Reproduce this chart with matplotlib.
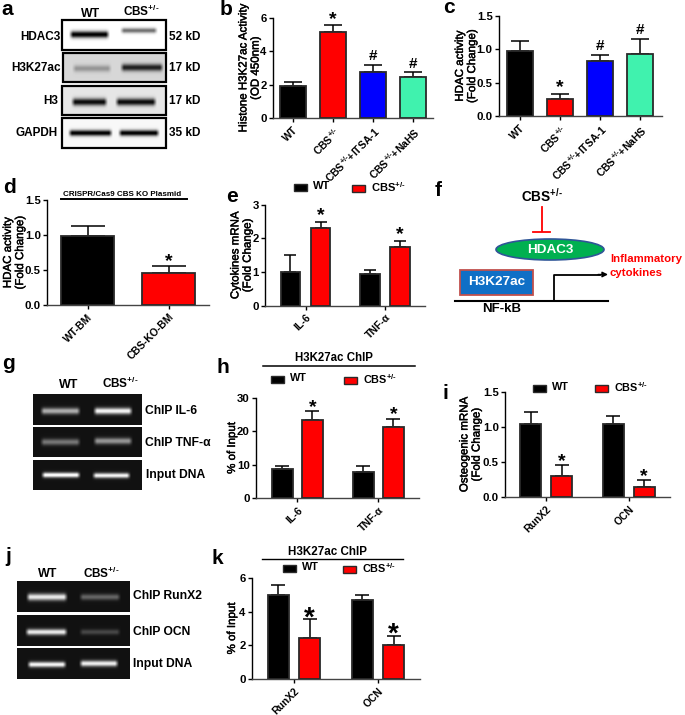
import matplotlib
matplotlib.use("Agg")

import numpy as np
import matplotlib.pyplot as plt
import matplotlib.patheffects as pe
from matplotlib.patches import Ellipse, Rectangle

W, H = 685, 715

plt.rcParams["font.family"] = ["Liberation Sans", "DejaVu Sans"]
plt.rcParams["font.weight"] = "bold"
plt.rcParams["mathtext.fontset"] = "custom"
plt.rcParams["mathtext.rm"] = "Liberation Sans:bold"
plt.rcParams["mathtext.bf"] = "Liberation Sans:bold"
plt.rcParams["mathtext.default"] = "rm"

CBS = r"CBS$^{\text{+/-}}$"
BLACK = "#000000"
RED = "#ff0000"
BLUE = "#0000ff"
GREEN = "#40f2ae"
EDGE = "#2a2a2a"

# panel b
labels_b = ["WT", CBS, CBS + "+ITSA-1", CBS + "+NaHS"]
values_b = [1.95, 5.15, 2.75, 2.45]
tops_b = [2.15, 5.6, 3.2, 2.75]
marks_b = ["", "*", "#", "#"]

# panel c
labels_c = ["WT", CBS, CBS + "+ITSA-1", CBS + "+NaHS"]
values_c = [0.98, 0.25, 0.82, 0.93]
tops_c = [1.13, 0.33, 0.92, 1.16]
marks_c = ["", "*", "#", "#"]

# panel d
labels_d = ["WT-BM", "CBS-KO-BM"]
values_d = [0.98, 0.46]
tops_d = [1.13, 0.56]
marks_d = ["", "*"]

# panel e
groups_e = ["IL-6", "TNF-α"]
wt_e = [1.0, 0.95]
wt_top_e = [1.52, 1.05]
cbs_e = [2.3, 1.75]
cbs_top_e = [2.5, 1.93]

# panel h
groups_h = ["IL-6", "TNF-α"]
wt_h = [8.7, 7.8]
wt_top_h = [9.7, 9.5]
cbs_h = [23.5, 21.2]
cbs_top_h = [26.0, 23.7]

# panel i
groups_i = ["RunX2", "OCN"]
wt_i = [1.05, 1.05]
wt_top_i = [1.21, 1.16]
cbs_i = [0.3, 0.15]
cbs_top_i = [0.46, 0.25]

# panel k
groups_k = ["RunX2", "OCN"]
wt_k = [5.0, 4.68]
wt_top_k = [5.57, 5.0]
cbs_k = [2.42, 2.03]
cbs_top_k = [3.55, 2.55]

fig = plt.figure(figsize=(W / 100, H / 100), dpi=100)
canvas = fig.add_axes([0, 0, 1, 1])
canvas.set_xlim(0, W)
canvas.set_ylim(H, 0)
canvas.axis("off")


def axes_px(left, top, right, bottom):
    return fig.add_axes([left / W, 1 - bottom / H, (right - left) / W, (bottom - top) / H])


def text(x, y, s, size=8, color="black", ha="left", va="center", **kw):
    canvas.text(x, y, s, fontsize=size, color=color, ha=ha, va=va, fontweight="bold", **kw)


def style_axes(ax, ylim, yticks, yfmt, ylabel, xlim, label_x, size=8.3):
    ax.set_xlim(*xlim)
    ax.set_ylim(*ylim)
    ax.set_yticks(yticks)
    ax.set_yticklabels([yfmt % v for v in yticks], fontsize=8.2)
    ax.patch.set_alpha(0)
    for side in ["top", "right"]:
        ax.spines[side].set_visible(False)
    ax.spines["left"].set_linewidth(1.0)
    ax.spines["bottom"].set_linewidth(1.0)
    ax.spines["bottom"].set_color("#444444")
    ax.tick_params(axis="y", length=3, width=1.0, pad=1.5)
    ax.tick_params(axis="x", length=3, width=1.0, pad=2)
    # label_x is the label's centre in picture pixels
    box = ax.get_position()
    ax.text((label_x / W - box.x0) / box.width, 0.5, ylabel, transform=ax.transAxes, rotation=90,
            ha="center", va="center", multialignment="center", fontsize=size, linespacing=1.02,
            fontweight="normal", path_effects=[pe.withStroke(linewidth=0.3, foreground="black")])


def xlabels(ax, pos, labels, size=7.5):
    ax.set_xticks(pos)
    ax.set_xticklabels(labels, rotation=45, ha="right", rotation_mode="anchor", fontsize=size)


def draw_bars(ax, x, values, tops, colors, width, marks=None, star_size=14, star_gap=9):
    ax.bar(x, values, width=width, color=colors, edgecolor=EDGE, linewidth=1.3, zorder=3)
    lower = np.zeros(len(values))
    upper = np.array(tops) - np.array(values)
    span = ax.get_xlim()[1] - ax.get_xlim()[0]
    px = ax.get_position().width * W / span
    ax.errorbar(x, values, yerr=[lower, upper], fmt="none", ecolor="black", elinewidth=1.1,
                capsize=width * px * 0.33 * 0.72, capthick=1.1, zorder=2)
    if not marks:
        return
    for xi, t, m in zip(x, tops, marks):
        if not m:
            continue
        # glyph centres sit at a fixed share of the em above the baseline
        size = star_size if m == "*" else 11
        em = size / 0.72
        gap = star_gap if m == "*" else 10
        share = 0.43 if m == "*" else 0.35
        dy = (gap - share * em) * 0.72
        ax.annotate(m, (xi, t), xytext=(0, dy), textcoords="offset points", ha="center", va="baseline",
                    fontsize=size, fontweight="bold", zorder=5, annotation_clip=False)


def grouped(ax, groups, wt, wt_top, cbs, cbs_top, offset, width, star_size=14, star_gap=9):
    x = np.arange(len(groups))
    draw_bars(ax, x - offset, wt, wt_top, [BLACK] * len(x), width)
    draw_bars(ax, x + offset, cbs, cbs_top, [RED] * len(x), width, ["*"] * len(x), star_size, star_gap)
    xlabels(ax, x, groups)


def legend_px(x1, y1, x2, y2, size=8):
    canvas.add_patch(Rectangle((x1, y1 - 3.5), 13, 7, fc=BLACK, ec=EDGE, lw=1))
    text(x1 + 19, y1 - 1, "WT", size)
    canvas.add_patch(Rectangle((x2, y2 - 3.5), 13, 7, fc=RED, ec=EDGE, lw=1))
    text(x2 + 19, y2 - 1, CBS, size)


def band_image(x0, x1, y0, y1, bands, bg, dark_on_light):
    # bands: (xa, xb, y, thickness, strength) in pixels
    xs = np.arange(x0, x1) + 0.5
    ys = np.arange(y0, y1) + 0.5
    gx, gy = np.meshgrid(xs, ys)
    signal = np.zeros_like(gx)
    for xa, xb, yc, th, strength in bands:
        prof_x = np.clip((gx - xa) / 4, 0, 1) * np.clip((xb - gx) / 4, 0, 1)
        prof_y = np.exp(-((gy - yc) / th) ** 2)
        signal = signal + strength * prof_x * prof_y
    signal = np.clip(signal, 0, 1)
    if dark_on_light:
        return bg * (1 - signal)
    return bg + (1 - bg) * signal


def blot(x0, x1, y0, y1, bands, bg, lw=1.6):
    img = band_image(x0, x1, y0, y1, bands, bg, True)
    canvas.imshow(img, cmap="gray", vmin=0, vmax=1, extent=(x0, x1, y1, y0), aspect="auto",
                  interpolation="bilinear", zorder=1)
    canvas.add_patch(Rectangle((x0, y0), x1 - x0, y1 - y0, fc="none", ec="black", lw=lw, zorder=2))


def gel(x0, x1, y0, y1, bands, bg=0.07):
    img = band_image(x0, x1, y0, y1, bands, bg, False)
    canvas.imshow(img, cmap="gray", vmin=0, vmax=1, extent=(x0, x1, y1, y0), aspect="auto",
                  interpolation="bilinear", zorder=1)


# panel letters
for letter, x, y in [("a", 1, 15), ("b", 220, 15), ("c", 443, 13), ("d", 3, 193), ("e", 226, 202),
                     ("f", 435, 196), ("g", 2, 369), ("h", 217, 373), ("i", 443, 399),
                     ("j", 5, 562), ("k", 212, 564)]:
    text(x, y, letter, 15, va="baseline")

# a: western blots
blot(62, 166, 20, 50, [(69, 110, 34.5, 3.4, 1.0), (120, 158, 30.5, 2.6, 0.55)], 1.0)
blot(63, 166, 53, 82, [(72, 112, 68.5, 3.4, 0.3), (120, 164, 67.5, 3.6, 0.85)], 0.84)
blot(62, 166, 86, 115, [(71, 108, 102, 3.6, 0.95), (115, 157, 102, 3.6, 0.95)], 0.9)
blot(62, 166, 118, 148, [(68, 113, 133, 3.0, 1.0), (118, 160, 133, 3.0, 1.0)], 0.97)
text(91, 14, "WT", 8.8, ha="center")
text(141, 11, CBS, 8.5, ha="center")
for y, name, kd, right in [(36.5, "HDAC3", "52 kD", 61), (68, "H3K27ac", "17 kD", 61),
                           (101, "H3", "17 kD", 58), (133, "GAPDH", "35 kD", 58)]:
    text(right, y, name, 8.5, ha="right")
    text(169, y, kd, 8.5)

# b
ax = axes_px(273, 18, 433, 118)
style_axes(ax, (0, 6), [0, 2, 4, 6], "%d", "Histone H3K27ac Activity\n(OD 450nm)", (-0.5, 3.5), 249.5)
draw_bars(ax, np.arange(4), values_b, tops_b, [BLACK, RED, BLUE, GREEN], 0.65, marks_b, star_gap=9)
xlabels(ax, np.arange(4), labels_b)

# c
ax = axes_px(499, 16, 662, 116)
style_axes(ax, (0, 1.5), [0, 0.5, 1.0, 1.5], "%.1f", "HDAC activity\n(Fold Change)", (-0.525, 3.55), 466)
draw_bars(ax, np.arange(4), values_c, tops_c, [BLACK, RED, BLUE, GREEN], 0.65, marks_c, star_gap=10)
xlabels(ax, np.arange(4), labels_c)

# d
ax = axes_px(47, 200, 209, 305)
style_axes(ax, (0, 1.5), [0, 0.5, 1.0, 1.5], "%.1f", "HDAC activity\n(Fold Change)", (-0.5, 1.5), 14)
draw_bars(ax, np.arange(2), values_d, tops_d, [BLACK, RED], 0.65, marks_d, star_gap=8)
xlabels(ax, np.arange(2), labels_d)
text(122, 194, "CRISPR/Cas9 CBS KO Plasmid", 5.8, ha="center")
canvas.plot([61, 187], [199, 199], color="black", lw=1.4)

# e
ax = axes_px(265, 205, 425, 305.5)
style_axes(ax, (0, 3), [0, 1, 2, 3], "%d", "Cytokines mRNA\n(Fold Change)", (-0.51, 1.503), 241.5)
grouped(ax, groups_e, wt_e, wt_top_e, cbs_e, cbs_top_e, 0.19, 0.245, star_gap=10)
legend_px(294, 187, 352, 188)

# f: pathway sketch
text(542, 196, CBS, 9.8, ha="center")
canvas.plot([542, 542], [207, 231], color=RED, lw=1.3)
canvas.plot([533, 550], [232, 232], color=RED, lw=1.3)
canvas.add_patch(Ellipse((550, 249.5), 108, 21, fc="#00b050", ec="#2f5597", lw=1.2))
text(550, 250, "HDAC3", 9.7, "white", ha="center")
canvas.add_patch(Rectangle((460, 270), 73, 25, fc="#0f6fc6", ec="#c0504d", lw=1.3))
text(496.5, 282, "H3K27ac", 9.7, "white", ha="center")
canvas.plot([455, 608], [300.5, 300.5], color="black", lw=1.5)
canvas.plot([554, 554, 600], [300, 274.5, 274.5], color="black", lw=1.3)
canvas.annotate("", xy=(608, 274.5), xytext=(598, 274.5),
                arrowprops=dict(arrowstyle="-|>", color="black", lw=1, mutation_scale=8, shrinkA=0, shrinkB=0))
text(502, 309, "NF-kB", 9.5, ha="center")
text(610, 259, "Inflammatory", 8.2, RED)
text(610, 273, "cytokines", 8.2, RED)

# g: gels
gel(33, 142, 394, 425, [(40, 81, 411, 3.2, 0.65), (93, 133, 411, 3.2, 0.95)])
gel(33, 142, 427, 457, [(40, 81, 442, 3.2, 0.42), (93, 133, 441, 3.2, 0.55)])
gel(33, 142, 460, 490, [(41, 81, 475, 2.6, 1.0), (92, 131, 475.5, 2.6, 0.95)])
text(68.5, 385, "WT", 9, ha="center")
text(120, 383, CBS, 8.5, ha="center")
text(145, 411, "ChIP IL-6", 8.7)
text(145, 442.5, "ChIP TNF-α", 8.7)
text(146, 475, "Input DNA", 8.7)

# h
ax = axes_px(256, 398, 419, 498)
style_axes(ax, (0, 30), [0, 10, 20, 30], "%d", "% of Input", (-0.51, 1.5), 232)
grouped(ax, groups_h, wt_h, wt_top_h, cbs_h, cbs_top_h, 0.185, 0.26, star_gap=8)
text(334, 358, "H3K27ac ChIP", 8.3, ha="center")
canvas.plot([263, 415], [366, 366], color="black", lw=1.1)
legend_px(271, 379, 344, 380, 7.8)

# i
ax = axes_px(505, 392, 670, 497)
style_axes(ax, (0, 1.5), [0, 0.5, 1.0, 1.5], "%.1f", "Osteogenic mRNA\n(Fold Change)", (-0.5, 1.5), 470.5)
grouped(ax, groups_i, wt_i, wt_top_i, cbs_i, cbs_top_i, 0.188, 0.25, star_gap=7)
legend_px(533, 388, 595, 388, 7.8)

# j: gels
gel(17, 130, 581, 612, [(26, 68, 597, 3.4, 0.9), (79, 121, 597, 3.0, 0.35)])
gel(17, 130, 615, 646, [(25, 68, 632, 3.0, 0.9), (79, 121, 632, 2.8, 0.22)])
gel(17, 130, 648, 679, [(27, 67, 664.5, 2.8, 0.95), (79, 119, 663.5, 3.0, 0.92)])
text(48, 574, "WT", 9, ha="center")
text(101, 573, CBS, 8.5, ha="center")
text(133, 596, "ChIP RunX2", 8.7)
text(133, 632, "ChIP OCN", 8.7)
text(133, 664, "Input DNA", 8.7)

# k
ax = axes_px(252, 578, 420, 679)
style_axes(ax, (0, 6), [0, 2, 4, 6], "%d", "% of Input", (-0.5, 1.5), 232)
grouped(ax, groups_k, wt_k, wt_top_k, cbs_k, cbs_top_k, 0.186, 0.257, star_size=20, star_gap=6)
text(328, 552, "H3K27ac ChIP", 8.4, ha="center")
canvas.plot([262, 403], [559, 559], color="black", lw=1)
legend_px(283, 568, 343, 569, 7.8)

fig.savefig("out.png", dpi=100)
plt.close(fig)
